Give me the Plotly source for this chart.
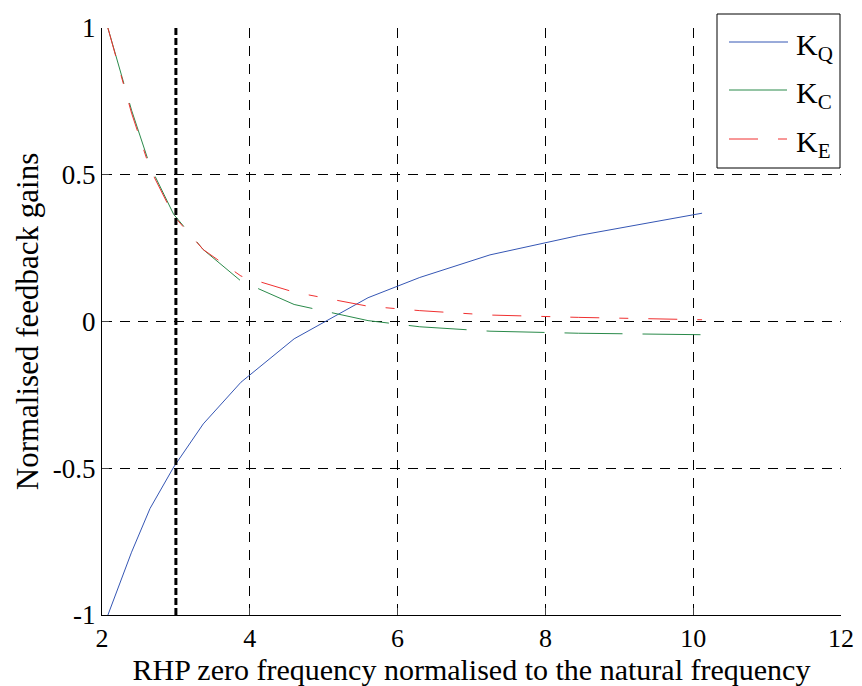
import plotly.graph_objects as go

x_vals = [2.08, 2.4, 2.65, 2.97, 3.37, 3.88, 4.6, 5.6, 6.3, 7.25, 8.45, 10.12]
k_q = [-1.0, -0.786, -0.637, -0.496, -0.349, -0.207, -0.059, 0.081, 0.150, 0.227, 0.293, 0.369]
k_c = [1.0, 0.72, 0.53, 0.365, 0.245, 0.138, 0.058, 0.003, -0.018, -0.033, -0.040, -0.045]
k_e = [1.0, 0.71, 0.52, 0.36, 0.245, 0.155, 0.10, 0.052, 0.037, 0.022, 0.014, 0.006]
x_marker = 3
x_ticks = [2, 4, 6, 8, 10, 12]
y_ticks = [-1, -0.5, 0, 0.5, 1]
y_ticklabels = ["-1", "-0.5", "0", "0.5", "1"]
series_names = ["K<sub>Q</sub>", "K<sub>C</sub>", "K<sub>E</sub>"]
series_colors = ["#3556b4", "#2a8a4a", "#f03030"]
series_dashes = ["solid", "58px,20px", "29px,20px,9px,20px"]

FONT = "Liberation Serif"
W, H = 862, 686
L, R, T, B = 102, 21, 28, 71
PW, PH = W - L - R, H - T - B


def px_x(px):
    return (px - L) / PW


def px_y(py):
    return (H - B - py) / PH


fig = go.Figure()
for ys, nm, col, dsh in zip([k_q, k_c, k_e], series_names, series_colors, series_dashes):
    fig.add_trace(go.Scatter(x=x_vals, y=ys, mode="lines", name=nm, showlegend=False,
                             line=dict(color=col, width=1, dash=dsh)))

fig.add_shape(type="line", xref="x", yref="y", x0=x_marker, x1=x_marker, y0=-1, y1=1,
              line=dict(color="black", width=3, dash="7px,3px"))

# legend box
fig.add_shape(type="rect", xref="paper", yref="paper",
              x0=px_x(717), x1=px_x(840), y0=px_y(168), y1=px_y(14),
              line=dict(color="black", width=1), fillcolor="white", layer="above")
row_y = [42, 90, 139]
for ry, nm, col, dsh in zip(row_y, series_names, series_colors, series_dashes):
    fig.add_shape(type="line", xref="paper", yref="paper",
                  x0=px_x(729), x1=px_x(788), y0=px_y(ry), y1=px_y(ry),
                  line=dict(color=col, width=1, dash=dsh), layer="above")
    fig.add_annotation(xref="paper", yref="paper", x=px_x(794), y=px_y(ry + 5),
                       text=nm, showarrow=False, xanchor="left", yanchor="middle",
                       font=dict(size=30, family=FONT, color="black"))

fig.update_layout(
    width=W, height=H,
    margin=dict(l=L, r=R, t=T, b=B),
    paper_bgcolor="white", plot_bgcolor="white",
    font=dict(family=FONT, size=26, color="black"),
    showlegend=False,
    xaxis=dict(range=[2, 12], tickvals=x_ticks, ticks="inside", ticklen=7, automargin=False,
               showline=True, linecolor="black", linewidth=1, mirror=False,
               showgrid=True, gridcolor="black", gridwidth=1, griddash="10px,8px",
               zeroline=False, tickfont=dict(size=26),
               title=dict(text="RHP zero frequency normalised to the natural frequency",
                          font=dict(size=30), standoff=4)),
    yaxis=dict(range=[-1, 1], tickvals=y_ticks, ticktext=y_ticklabels, ticks="inside", ticklen=7,
               automargin=False,
               showline=True, linecolor="black", linewidth=1, mirror=False,
               showgrid=True, gridcolor="black", gridwidth=1, griddash="10px,8px",
               zeroline=False, tickfont=dict(size=27),
               title=dict(text="Normalised feedback gains", font=dict(size=31), standoff=4)),
)

fig.write_html("out.html", post_script="document.body.style.margin='0';",
               config={"displayModeBar": False})
